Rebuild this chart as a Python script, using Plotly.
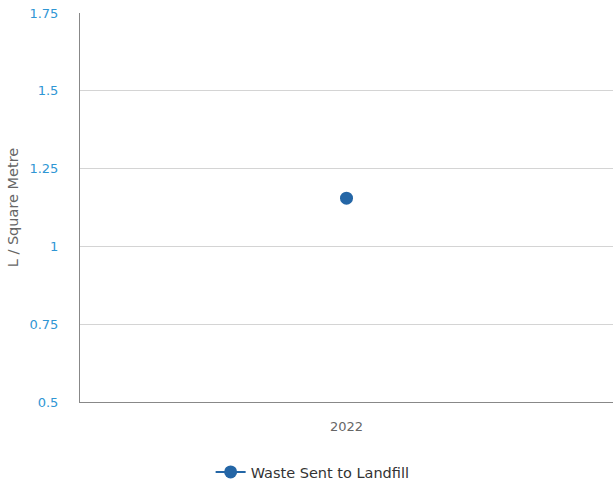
import plotly.graph_objects as go

years = ["2022"]
waste_landfill = [1.155]
y_ticks = [0.5, 0.75, 1, 1.25, 1.5, 1.75]
y_tick_labels = ["0.5", "0.75", "1", "1.25", "1.5", "1.75"]

fig = go.Figure()
fig.add_trace(go.Scatter(
    x=years, y=waste_landfill, mode="lines+markers",
    name="Waste Sent to Landfill",
    marker=dict(size=13, color="#2466a6"),
    line=dict(color="#2466a6", width=2),
))

fig.update_layout(
    width=613, height=486,
    margin=dict(l=80, r=0, t=13, b=84, autoexpand=False),
    paper_bgcolor="white", plot_bgcolor="white",
    font=dict(family="DejaVu Sans", size=12, color="#666666"),
    showlegend=True,
    legend=dict(orientation="h", xref="container", x=0.51, xanchor="center",
                y=-0.18, yanchor="middle", itemwidth=30,
                font=dict(size=14.5, color="#333333")),
    xaxis=dict(type="category", range=[-0.5, 0.5], showgrid=False, automargin=False,
               showline=True, linecolor="#888888", linewidth=1,
               ticks="", tickfont=dict(size=13, color="#666666"),
               ticklabelstandoff=12),
    yaxis=dict(range=[0.5, 1.75], tickvals=y_ticks, ticktext=y_tick_labels,
               automargin=False,
               showgrid=True, gridcolor="#d4d4d4", gridwidth=1,
               showline=True, linecolor="#888888", linewidth=1,
               zeroline=False, ticks="",
               tickfont=dict(size=13, color="#2f96d4"),
               ticklabelstandoff=18,
               title=dict(text="L / Square Metre", font=dict(size=14.5, color="#666666"),
                          standoff=7)),
)

fig.write_html("out.html", config={"displayModeBar": False},
               post_script="document.body.style.margin='0';")
